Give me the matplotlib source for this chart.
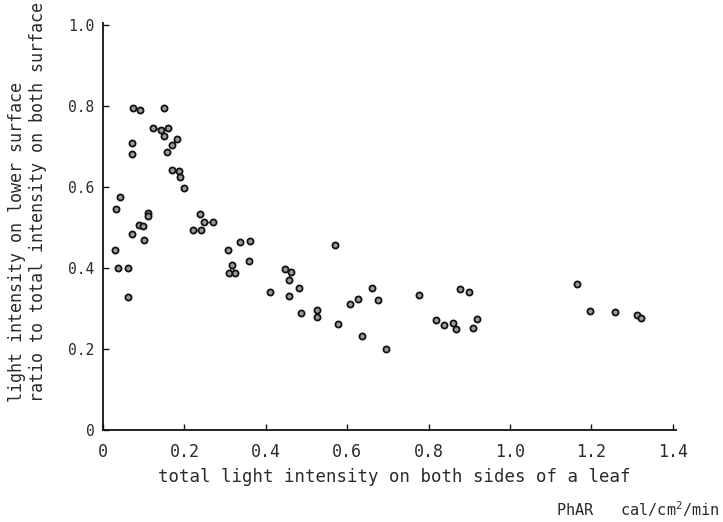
import numpy as np
import matplotlib
matplotlib.use("Agg")
import matplotlib.pyplot as plt

# points (PhAR, ratio lower/total)
x = [0.073, 0.092, 0.149, 0.122, 0.142, 0.160, 0.151, 0.070, 0.070, 0.158,
     0.169, 0.181, 0.170, 0.187, 0.189, 0.200, 0.042, 0.033, 0.111, 0.111,
     0.088, 0.099, 0.070, 0.101, 0.029, 0.238, 0.249, 0.270, 0.220, 0.240,
     0.306, 0.336, 0.361, 0.317, 0.310, 0.324, 0.358, 0.036, 0.062, 0.062,
     0.569, 0.447, 0.461, 0.457, 0.482, 0.410, 0.458, 0.487, 0.527, 0.527,
     0.577, 0.660, 0.627, 0.608, 0.676, 0.637, 0.695, 0.776, 0.878, 0.899,
     0.817, 0.838, 0.859, 0.867, 0.918, 0.908, 1.165, 1.197, 1.259, 1.311,
     1.322]
y = [0.794, 0.790, 0.794, 0.745, 0.742, 0.745, 0.726, 0.708, 0.681, 0.687,
     0.704, 0.718, 0.642, 0.640, 0.625, 0.597, 0.575, 0.545, 0.537, 0.528,
     0.506, 0.505, 0.485, 0.468, 0.444, 0.534, 0.514, 0.514, 0.493, 0.493,
     0.445, 0.465, 0.467, 0.407, 0.387, 0.387, 0.417, 0.399, 0.399, 0.328,
     0.457, 0.398, 0.391, 0.370, 0.351, 0.341, 0.332, 0.290, 0.296, 0.280,
     0.262, 0.350, 0.324, 0.311, 0.321, 0.233, 0.201, 0.334, 0.349, 0.340,
     0.271, 0.260, 0.264, 0.249, 0.273, 0.252, 0.361, 0.294, 0.292, 0.284,
     0.277]

# pairs of points joined by short strokes in the original
links = [(0, 1), (3, 4), (4, 5), (4, 6), (10, 11), (12, 13), (13, 14),
         (18, 19), (20, 21), (26, 27), (28, 29), (33, 34), (33, 35), (34, 35),
         (41, 42), (42, 43), (48, 49), (62, 63), (69, 70)]

xticks = [0, 0.2, 0.4, 0.6, 0.8, 1.0, 1.2, 1.4]
xticklabels = ['0', '0.2', '0.4', '0.6', '0.8', '1.0', '1.2', '1.4']
yticks = [0, 0.2, 0.4, 0.6, 0.8, 1.0]
yticklabels = ['0', '0.2', '0.4', '0.6', '0.8', '1.0']

plt.rcParams['font.family'] = ['DejaVu Sans Mono']
plt.rcParams['mathtext.default'] = 'regular'
ink = '#2a2a2a'

fig = plt.figure(figsize=(7.23, 5.22), dpi=100)
ax = fig.add_axes([0.1425, 0.1762, 0.7925, 0.7797])

x = np.array(x)
y = np.array(y)
for i, j in links:
    ax.plot([x[i], x[j]], [y[i], y[j]], color=ink, lw=1.0, zorder=2)
ax.plot(x, y, 'o', ms=4.4, mfc='#9a9a9a', mec='#111111', mew=1.3,
        zorder=3)

ax.set_xlim(0, 1.408)
ax.set_ylim(0, 1.005)
for s in ['top', 'right']:
    ax.spines[s].set_visible(False)
for s in ['left', 'bottom']:
    ax.spines[s].set_linewidth(1.3)
    ax.spines[s].set_color('#111111')

ax.set_xticks(xticks)
ax.set_xticklabels(xticklabels)
ax.set_yticks(yticks)
ax.set_yticklabels(yticklabels)
ax.tick_params(direction='in', length=4, width=1, colors='#111111',
               labelcolor=ink)
ax.tick_params(axis='x', pad=9, labelsize=12)
ax.tick_params(axis='y', pad=6, labelsize=10.5)

fig.text(0.545, 0.087, 'total light intensity on both sides of a leaf',
         ha='center', va='center', fontsize=12.5, color=ink)
fig.text(0.995, 0.025, 'PhAR   cal/cm$^2$/min', ha='right', va='center',
         fontsize=11, color=ink)
fig.text(0.038, 0.23,
         'light intensity on lower surface\n'
         'ratio to total intensity on both surface',
         rotation=90, ha='center', va='bottom', multialignment='left',
         fontsize=12, color=ink, linespacing=1.25)

fig.savefig('out.png', dpi=100)
